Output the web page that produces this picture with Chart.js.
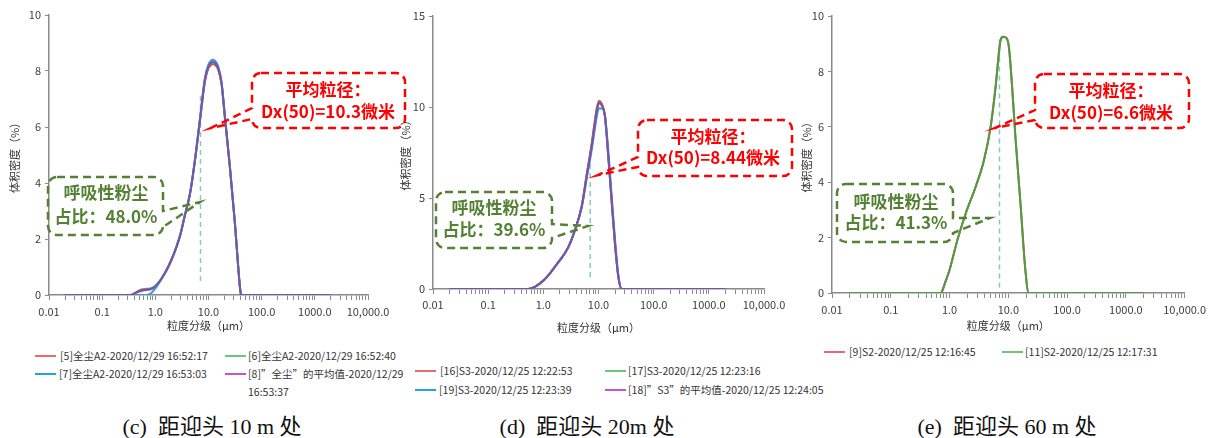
<!DOCTYPE html>
<html>
<head>
<meta charset="utf-8">
<script src="https://cdn.jsdelivr.net/npm/chart.js@4.4.1/dist/chart.umd.min.js"></script>
<style>
body{margin:0;background:#fff;width:1211px;height:438px;position:relative;overflow:hidden;font-family:"Noto Sans CJK SC",sans-serif}
canvas{position:absolute;top:0}
.lg{position:absolute;font-size:10.5px;color:#333;white-space:pre;line-height:18px}
.lg i{position:absolute;left:0;top:8px;width:21px;height:2px}
.cap{position:absolute;top:414px;font-size:22px;line-height:26px;font-family:"Liberation Serif","Noto Sans CJK SC",serif;color:#111;white-space:pre;transform:translateX(-50%)}
</style>
</head>
<body>
<canvas id="c1" width="410" height="332" style="left:0px"></canvas>
<canvas id="c2" width="415" height="334" style="left:390px"></canvas>
<canvas id="c3" width="421" height="332" style="left:790px"></canvas>
<script>
// ---- axis ticks ----
const decades = [0.01, 0.1, 1, 10, 100, 1000, 10000];
const decadeLabels = ['0.01', '0.1', '1.0', '10.0', '100.0', '1000.0', '10,000.0'];
const xTitle = '粒度分级（μm）';
const yTitle = '体积密度（%）';

// ---- (c) 10 m ----
const sizesC = [0.02, 0.1, 0.3, 0.34, 0.4, 0.47, 0.55, 0.69, 0.85, 1.06, 1.3, 1.63, 2.0, 2.51, 3.0, 3.5, 4.5, 5.55, 6.9, 8.56, 9.9, 11, 12.2, 13.5, 15.2, 17.6, 20.3, 25.2, 31.4, 36.2, 40, 42, 50, 200, 2000];
const redC    = [0, 0, 0, 0, 0.04, 0.1, 0.15, 0.18, 0.21, 0.34, 0.57, 0.88, 1.24, 1.72, 2.19, 2.74, 3.62, 4.78, 6.2, 7.6, 8.08, 8.2, 8.25, 8.2, 8.05, 7.52, 6.35, 4.58, 2.56, 1.01, 0.1, 0, 0, 0, 0];
const greenC  = [0, 0, 0, 0, 0.06, 0.14, 0.2, 0.22, 0.24, 0.37, 0.59, 0.9, 1.26, 1.74, 2.21, 2.76, 3.64, 4.8, 6.25, 7.68, 8.14, 8.27, 8.31, 8.26, 8.1, 7.56, 6.37, 4.58, 2.56, 1.01, 0.1, 0, 0, 0, 0];
const blueC   = [0, 0, 0, 0, 0, 0, 0, 0, 0.08, 0.3, 0.56, 0.89, 1.25, 1.74, 2.21, 2.76, 3.64, 4.82, 6.3, 7.75, 8.22, 8.36, 8.4, 8.35, 8.18, 7.62, 6.42, 4.62, 2.58, 1.02, 0.1, 0, 0, 0, 0];
const meanC   = [0, 0, 0, 0, 0.05, 0.12, 0.17, 0.2, 0.23, 0.36, 0.58, 0.89, 1.25, 1.73, 2.2, 2.75, 3.63, 4.8, 6.25, 7.68, 8.15, 8.28, 8.33, 8.28, 8.1, 7.56, 6.37, 4.58, 2.56, 1.01, 0.1, 0, 0, 0, 0];
const labelsC = ['[5]全尘A2-2020/12/29 16:52:17', '[6]全尘A2-2020/12/29 16:52:40', '[7]全尘A2-2020/12/29 16:53:03', '[8]”全尘”的平均值-2020/12/29\n16:53:37'];
const respC = [0.5, 7.1];

// ---- (d) 20 m ----
const sizesD = [0.02, 0.1, 0.3, 0.53, 0.7, 0.87, 1.05, 1.32, 1.6, 2.0, 2.5, 3.05, 3.75, 4.96, 6.1, 7.53, 8.64, 9.27, 10.2, 11.5, 13.1, 15.1, 17.3, 19.9, 22.9, 26.4, 30, 100, 500, 2000];
const redD    = [0, 0, 0, 0, 0.12, 0.31, 0.52, 0.86, 1.2, 1.59, 2.0, 2.51, 3.24, 4.55, 6.25, 7.95, 9.25, 9.85, 10.3, 10.15, 9.5, 7.25, 4.85, 2.48, 0.66, 0, 0, 0, 0, 0];
const greenD  = [0, 0, 0, 0, 0.12, 0.31, 0.52, 0.86, 1.2, 1.59, 2.0, 2.51, 3.24, 4.56, 6.28, 8.0, 9.3, 9.9, 10.35, 10.15, 9.45, 7.2, 4.8, 2.45, 0.65, 0, 0, 0, 0, 0];
const blueD   = [0, 0, 0, 0, 0.12, 0.31, 0.52, 0.86, 1.2, 1.59, 2.0, 2.51, 3.24, 4.48, 6.05, 7.65, 8.85, 9.45, 9.93, 9.92, 9.55, 7.55, 5.15, 2.75, 0.78, 0, 0, 0, 0, 0];
const meanD   = [0, 0, 0, 0, 0.12, 0.31, 0.52, 0.86, 1.2, 1.59, 2.0, 2.51, 3.24, 4.52, 6.17, 7.82, 9.1, 9.75, 10.2, 10.08, 9.5, 7.27, 4.89, 2.51, 0.68, 0, 0, 0, 0, 0];
const labelsD = ['[16]S3-2020/12/25 12:22:53', '[17]S3-2020/12/25 12:23:16', '[19]S3-2020/12/25 12:23:39', '[18]”S3”的平均值-2020/12/25 12:24:05'];
const respD = [0.66, 7.2];

// ---- (e) 60 m ----
const sizesE = [0.02, 0.1, 0.5, 0.72, 0.76, 0.85, 1.0, 1.36, 1.89, 2.79, 3.86, 5.0, 6.08, 6.9, 7.38, 8.17, 9.33, 10.2, 11.6, 13.2, 16.1, 19.5, 22.2, 30, 100, 500, 2000];
const redE    = [0, 0, 0, 0, 0.1, 0.4, 0.83, 1.91, 2.88, 3.84, 4.8, 6.0, 7.45, 8.65, 9.13, 9.25, 9.2, 8.9, 7.45, 5.64, 3.24, 0.83, 0, 0, 0, 0, 0];
const greenE  = [0, 0, 0, 0, 0.1, 0.4, 0.83, 1.91, 2.88, 3.84, 4.8, 6.0, 7.45, 8.65, 9.13, 9.25, 9.2, 8.9, 7.45, 5.64, 3.24, 0.83, 0, 0, 0, 0, 0];
const labelsE = ['[9]S2-2020/12/25 12:16:45', '[11]S2-2020/12/25 12:17:31'];
const respE = [0.2, 9.2];

const respSize = 7.07;
const meanText = ['Dx(50)=10.3微米', 'Dx(50)=8.44微米', 'Dx(50)=6.6微米'];
const respText = ['占比：48.0%', '占比：39.6%', '占比：41.3%'];
const captions = ['(c)  距迎头 10 m 处', '(d)  距迎头 20m 处', '(e)  距迎头 60 m 处'];

// minor ticks 2..9 in every decade
const xTickVals = [];
decades.forEach((d, i) => {
  xTickVals.push(d);
  if (i < decades.length - 1) for (let k = 2; k <= 9; k++) xTickVals.push(+(d * k).toPrecision(3));
});

const FONT = '"Noto Sans CJK SC", sans-serif';
const RED = '#ff0000', GREEN = '#548235';

function bubble(ctx, b) {
  const [x, y, w, h] = b.box, r = 9;
  const [ta, tb] = b.attach, [tx, ty] = b.tip;
  ctx.beginPath();
  ctx.moveTo(x + r, y);
  ctx.lineTo(x + w - r, y);
  ctx.arcTo(x + w, y, x + w, y + r, r);
  if (b.side == 'right') { ctx.lineTo(x + w, ta); ctx.lineTo(tx, ty); ctx.lineTo(x + w, tb); }
  ctx.lineTo(x + w, y + h - r);
  ctx.arcTo(x + w, y + h, x + w - r, y + h, r);
  ctx.lineTo(x + r, y + h);
  ctx.arcTo(x, y + h, x, y + h - r, r);
  if (b.side == 'left') { ctx.lineTo(x, tb); ctx.lineTo(tx, ty); ctx.lineTo(x, ta); }
  ctx.lineTo(x, y + r);
  ctx.arcTo(x, y, x + r, y, r);
  ctx.closePath();
}

const calloutPlugin = {
  id: 'callouts',
  afterDraw(chart, args, opts) {
    const ctx = chart.ctx;
    ctx.save();
    ctx.translate(-opts.dx, 0);
    opts.items.forEach(b => {
      ctx.setLineDash([8, 5]);
      ctx.lineWidth = 2.5;
      ctx.strokeStyle = b.color;
      bubble(ctx, b);
      ctx.stroke();
      ctx.setLineDash([]);
      ctx.fillStyle = b.color;
      ctx.font = 'bold 17px ' + FONT;
      ctx.textAlign = 'center';
      ctx.textBaseline = 'middle';
      b.lines.forEach((t, i) => ctx.fillText(t, b.textX, b.textY[i]));
    });
    ctx.restore();
  }
};

function line(label, sizes, vals, color, order) {
  return {
    label, order,
    data: sizes.map((x, i) => ({x, y: vals[i]})),
    borderColor: color, borderWidth: 2, pointRadius: 0,
    cubicInterpolationMode: 'monotone', fill: false
  };
}

function respLine(range) {
  return {
    label: 'resp', order: 9,
    data: [{x: respSize, y: range[0]}, {x: respSize, y: range[1]}],
    borderColor: '#86cbbb', borderWidth: 1.5, borderDash: [5, 4],
    pointRadius: 0, tension: 0
  };
}

function makeChart(id, datasets, p) {
  return new Chart(document.getElementById(id), {
    type: 'line',
    data: { datasets },
    options: {
      responsive: false,
      animation: false,
      layout: { padding: { left: p.padL, top: p.top, right: p.padR, bottom: 0 } },
      plugins: {
        legend: { display: false },
        tooltip: { enabled: false },
        callouts: { dx: p.dx, items: p.callouts }
      },
      scales: {
        x: {
          type: 'logarithmic', min: 0.01, max: 10000,
          afterBuildTicks: s => { s.ticks = xTickVals.map(v => ({value: v})); },
          afterFit: s => { s.height = p.xH; },
          ticks: {
            autoSkip: false, maxRotation: 0, padding: p.tickPad, color: '#404040',
            font: { family: FONT, size: 11 },
            callback: v => { const i = decades.indexOf(v); return i >= 0 ? decadeLabels[i] : ''; }
          },
          grid: { drawOnChartArea: false, drawTicks: true, tickLength: 5, color: '#8a8a8a' },
          border: { display: true, color: '#8a8a8a', width: 1.5 },
          title: { display: true, text: xTitle, color: '#333', font: { family: FONT, size: 11 }, padding: 0 }
        },
        y: {
          min: 0, max: p.yMax,
          afterFit: s => { s.width = p.yW; },
          ticks: { stepSize: p.step, padding: 4, color: '#404040', font: { family: FONT, size: 11 } },
          grid: { drawOnChartArea: false, drawTicks: true, tickLength: 4, color: '#8a8a8a' },
          border: { display: true, color: '#8a8a8a', width: 1.5 },
          title: { display: true, text: yTitle, color: '#333', font: { family: FONT, size: 11 }, padding: 0 }
        }
      }
    },
    plugins: [calloutPlugin]
  });
}

makeChart('c1', [
  line(labelsC[0], sizesC, redC, '#e0474c', 3),
  line(labelsC[1], sizesC, greenC, '#4caf6a', 2),
  line(labelsC[2], sizesC, blueC, '#2f9ee0', 1),
  line(labelsC[3], sizesC, meanC, '#7b52ab', 0),
  respLine(respC)
], {
  dx: 0, padL: 8, top: 15, padR: 42, yW: 41, xH: 37, tickPad: 5, yMax: 10, step: 2,
  callouts: [
    {color: RED, box: [252, 73, 153, 55], side: 'left', attach: [108, 119], tip: [211, 128],
     lines: ['平均粒径：', meanText[0]], textX: 328, textY: [90, 112]},
    {color: GREEN, box: [48, 177, 115, 58], side: 'right', attach: [211, 227], tip: [200, 202],
     lines: ['呼吸性粉尘', respText[0]], textX: 106, textY: [193, 217]}
  ]
});

makeChart('c2', [
  line(labelsD[0], sizesD, redD, '#e0474c', 2),
  line(labelsD[1], sizesD, greenD, '#4caf6a', 3),
  line(labelsD[2], sizesD, blueD, '#2f9ee0', 1),
  line(labelsD[3], sizesD, meanD, '#7b52ab', 0),
  respLine(respD)
], {
  dx: 390, padL: 9, top: 16, padR: 41, yW: 34, xH: 45, tickPad: 4, yMax: 15, step: 5,
  callouts: [
    {color: RED, box: [638, 120, 154, 56], side: 'left', attach: [157, 167], tip: [598, 175],
     lines: ['平均粒径：', meanText[1]], textX: 713, textY: [137, 158]},
    {color: GREEN, box: [436, 192, 116, 56], side: 'right', attach: [224, 238], tip: [588, 226],
     lines: ['呼吸性粉尘', respText[1]], textX: 494, textY: [208, 230]}
  ]
});

makeChart('c3', [
  line(labelsE[0], sizesE, redE, '#e0474c', 1),
  line(labelsE[1], sizesE, greenE, '#4c9e44', 0),
  respLine(respE)
], {
  dx: 790, padL: 10, top: 16, padR: 24, yW: 32, xH: 39, tickPad: 5, yMax: 10, step: 2,
  callouts: [
    {color: RED, box: [1035, 74, 154, 54], side: 'left', attach: [110, 120], tip: [995, 128],
     lines: ['平均粒径：', meanText[2]], textX: 1111, textY: [91, 113]},
    {color: GREEN, box: [837, 184, 116, 58], side: 'right', attach: [218, 233], tip: [990, 218],
     lines: ['呼吸性粉尘', respText[2]], textX: 896, textY: [202, 223]}
  ]
});

// ---- HTML legends & captions ----
const legendColors = ['#e86a6a', '#6cc47e', '#22a2e8', '#c552d2'];
const legendLayout = [
  [labelsC, [[35, 60, 356], [225, 248, 356], [35, 59, 374], [225, 248, 374]]],
  [labelsD, [[415, 440, 371], [605, 628, 371], [415, 439, 390], [605, 628, 390]]],
  [labelsE, [[824, 849, 352], [1002, 1025, 352]]]
];
legendLayout.forEach(([labels, pos]) => {
  labels.forEach((t, i) => {
    const [sx, tx, cy] = pos[i];
    const d = document.createElement('div');
    d.className = 'lg';
    d.style.left = sx + 'px';
    d.style.top = (cy - 9) + 'px';
    d.style.paddingLeft = (tx - sx) + 'px';
    const sw = document.createElement('i');
    sw.style.background = legendColors[i];
    d.appendChild(sw);
    d.appendChild(document.createTextNode(t));
    document.body.appendChild(d);
  });
});
const capX = [212, 587, 1007];
captions.forEach((t, i) => {
  const d = document.createElement('div');
  d.className = 'cap';
  d.style.left = capX[i] + 'px';
  d.textContent = t;
  document.body.appendChild(d);
});
</script>
</body>
</html>
